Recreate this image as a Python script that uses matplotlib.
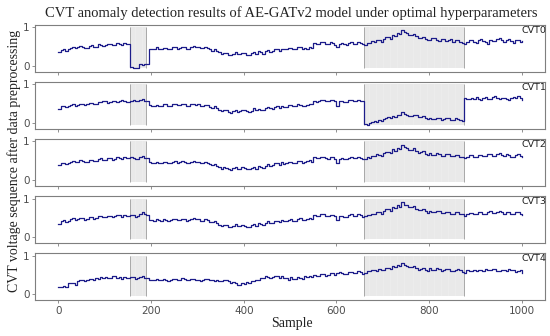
import numpy as np
import matplotlib
matplotlib.use("Agg")
import matplotlib.pyplot as plt

step = 5
series_names = ["CVT0", "CVT1", "CVT2", "CVT3", "CVT4"]

cvt0 = [0.35, 0.42, 0.45, 0.40, 0.44, 0.47, 0.50, 0.46, 0.48, 0.52,
        0.50, 0.46, 0.47, 0.52, 0.53, 0.49, 0.50, 0.56, 0.55, 0.52,
        0.53, 0.57, 0.58, 0.53, 0.55, 0.60, 0.57, 0.54, 0.60, 0.56,
        0.58, -0.03, -0.05, -0.06, -0.04, 0.05, 0.03, 0.04, 0.05, 0.45,
        0.45, 0.43, 0.48, 0.45, 0.44, 0.47, 0.47, 0.43, 0.45, 0.48,
        0.50, 0.45, 0.46, 0.50, 0.48, 0.44, 0.45, 0.49, 0.52, 0.48,
        0.50, 0.47, 0.46, 0.49, 0.47, 0.43, 0.40, 0.44, 0.38, 0.35,
        0.30, 0.34, 0.33, 0.28, 0.28, 0.32, 0.35, 0.30, 0.30, 0.34,
        0.33, 0.29, 0.28, 0.33, 0.36, 0.31, 0.38, 0.35, 0.32, 0.38,
        0.42, 0.37, 0.38, 0.44, 0.44, 0.40, 0.45, 0.43, 0.43, 0.46,
        0.47, 0.44, 0.45, 0.48, 0.48, 0.45, 0.46, 0.44, 0.50, 0.47,
        0.60, 0.57, 0.58, 0.62, 0.62, 0.58, 0.57, 0.61, 0.60, 0.55,
        0.48, 0.58, 0.60, 0.56, 0.55, 0.60, 0.62, 0.57, 0.58, 0.63,
        0.60, 0.56, 0.55, 0.60, 0.60, 0.65, 0.62, 0.66, 0.67, 0.63,
        0.70, 0.74, 0.75, 0.71, 0.80, 0.77, 0.85, 0.82, 0.93, 0.88,
        0.85, 0.80, 0.80, 0.84, 0.78, 0.73, 0.72, 0.76, 0.70, 0.66,
        0.68, 0.73, 0.72, 0.66, 0.65, 0.70, 0.70, 0.64, 0.66, 0.70,
        0.62, 0.67, 0.68, 0.63, 0.60, 0.56, 0.62, 0.66, 0.66, 0.61,
        0.60, 0.66, 0.70, 0.65, 0.62, 0.58, 0.68, 0.64, 0.65, 0.70,
        0.72, 0.66, 0.63, 0.68, 0.70, 0.64, 0.60, 0.66, 0.68, 0.62,
        0.65]
cvt1 = [0.37, 0.43, 0.45, 0.42, 0.44, 0.47, 0.48, 0.45, 0.47, 0.50,
        0.50, 0.47, 0.48, 0.52, 0.52, 0.48, 0.50, 0.55, 0.55, 0.58,
        0.56, 0.53, 0.55, 0.58, 0.57, 0.54, 0.56, 0.59, 0.58, 0.55,
        0.55, 0.58, 0.60, 0.56, 0.57, 0.60, 0.63, 0.58, 0.58, 0.46,
        0.45, 0.43, 0.47, 0.44, 0.44, 0.48, 0.48, 0.45, 0.45, 0.49,
        0.50, 0.46, 0.46, 0.49, 0.48, 0.44, 0.45, 0.48, 0.50, 0.47,
        0.48, 0.45, 0.44, 0.47, 0.46, 0.42, 0.40, 0.43, 0.38, 0.34,
        0.30, 0.33, 0.33, 0.28, 0.27, 0.31, 0.34, 0.29, 0.30, 0.33,
        0.35, 0.30, 0.28, 0.32, 0.38, 0.34, 0.36, 0.33, 0.33, 0.38,
        0.42, 0.38, 0.37, 0.42, 0.43, 0.40, 0.45, 0.42, 0.42, 0.46,
        0.46, 0.43, 0.45, 0.48, 0.47, 0.44, 0.44, 0.47, 0.50, 0.48,
        0.58, 0.55, 0.56, 0.60, 0.60, 0.56, 0.57, 0.60, 0.60, 0.56,
        0.45, 0.56, 0.58, 0.55, 0.55, 0.59, 0.60, 0.56, 0.57, 0.60,
        0.58, 0.56, -0.02, -0.05, 0.00, 0.03, 0.05, 0.02, 0.08, 0.06,
        0.10, 0.13, 0.15, 0.12, 0.18, 0.16, 0.22, 0.20, 0.28, 0.24,
        0.22, 0.18, 0.18, 0.22, 0.20, 0.16, 0.15, 0.18, 0.12, 0.10,
        0.14, 0.11, 0.10, 0.13, 0.13, 0.09, 0.10, 0.13, 0.12, 0.08,
        0.08, 0.12, 0.11, 0.07, 0.05, 0.65, 0.62, 0.62, 0.66, 0.63,
        0.67, 0.62, 0.60, 0.64, 0.68, 0.63, 0.63, 0.67, 0.70, 0.65,
        0.62, 0.66, 0.66, 0.61, 0.60, 0.64, 0.68, 0.65, 0.70, 0.64,
        0.60]
cvt2 = [0.38, 0.43, 0.45, 0.41, 0.43, 0.48, 0.50, 0.46, 0.47, 0.51,
        0.50, 0.46, 0.48, 0.53, 0.53, 0.49, 0.50, 0.55, 0.56, 0.52,
        0.53, 0.56, 0.57, 0.53, 0.55, 0.59, 0.58, 0.55, 0.60, 0.57,
        0.56, 0.59, 0.58, 0.54, 0.55, 0.59, 0.62, 0.57, 0.57, 0.46,
        0.45, 0.43, 0.48, 0.45, 0.44, 0.47, 0.46, 0.43, 0.45, 0.48,
        0.49, 0.45, 0.46, 0.49, 0.48, 0.44, 0.44, 0.48, 0.50, 0.47,
        0.47, 0.44, 0.44, 0.47, 0.45, 0.41, 0.38, 0.42, 0.37, 0.33,
        0.30, 0.33, 0.32, 0.28, 0.27, 0.31, 0.34, 0.29, 0.29, 0.33,
        0.32, 0.28, 0.28, 0.32, 0.35, 0.30, 0.37, 0.34, 0.32, 0.37,
        0.42, 0.37, 0.38, 0.43, 0.44, 0.40, 0.46, 0.42, 0.43, 0.46,
        0.47, 0.43, 0.44, 0.49, 0.50, 0.45, 0.46, 0.50, 0.52, 0.48,
        0.60, 0.56, 0.56, 0.60, 0.60, 0.56, 0.55, 0.59, 0.60, 0.55,
        0.45, 0.55, 0.58, 0.54, 0.54, 0.58, 0.60, 0.56, 0.56, 0.60,
        0.58, 0.54, 0.55, 0.59, 0.58, 0.62, 0.62, 0.67, 0.66, 0.62,
        0.70, 0.73, 0.74, 0.70, 0.80, 0.76, 0.83, 0.80, 0.90, 0.85,
        0.84, 0.79, 0.78, 0.82, 0.75, 0.71, 0.72, 0.75, 0.68, 0.64,
        0.70, 0.66, 0.66, 0.70, 0.68, 0.63, 0.63, 0.67, 0.67, 0.62,
        0.62, 0.66, 0.66, 0.61, 0.60, 0.56, 0.60, 0.64, 0.64, 0.60,
        0.60, 0.65, 0.66, 0.62, 0.62, 0.67, 0.68, 0.63, 0.63, 0.67,
        0.70, 0.65, 0.62, 0.67, 0.66, 0.61, 0.60, 0.65, 0.68, 0.63,
        0.60]
cvt3 = [0.35, 0.42, 0.44, 0.40, 0.42, 0.46, 0.49, 0.45, 0.46, 0.50,
        0.49, 0.45, 0.47, 0.51, 0.52, 0.48, 0.50, 0.54, 0.55, 0.51,
        0.52, 0.55, 0.56, 0.52, 0.54, 0.58, 0.57, 0.53, 0.58, 0.55,
        0.55, 0.58, 0.57, 0.53, 0.56, 0.60, 0.65, 0.60, 0.58, 0.45,
        0.44, 0.42, 0.47, 0.44, 0.43, 0.46, 0.45, 0.42, 0.44, 0.47,
        0.48, 0.44, 0.45, 0.48, 0.47, 0.43, 0.44, 0.47, 0.50, 0.46,
        0.46, 0.43, 0.43, 0.46, 0.44, 0.40, 0.38, 0.41, 0.36, 0.32,
        0.30, 0.32, 0.31, 0.27, 0.26, 0.30, 0.33, 0.28, 0.28, 0.32,
        0.30, 0.27, 0.27, 0.31, 0.34, 0.30, 0.36, 0.33, 0.31, 0.36,
        0.41, 0.36, 0.37, 0.42, 0.43, 0.39, 0.45, 0.41, 0.42, 0.45,
        0.46, 0.42, 0.43, 0.47, 0.49, 0.44, 0.45, 0.48, 0.50, 0.47,
        0.58, 0.54, 0.55, 0.59, 0.59, 0.55, 0.54, 0.58, 0.58, 0.54,
        0.44, 0.54, 0.56, 0.52, 0.53, 0.57, 0.59, 0.55, 0.55, 0.59,
        0.57, 0.53, 0.54, 0.58, 0.57, 0.61, 0.61, 0.66, 0.65, 0.61,
        0.69, 0.72, 0.73, 0.69, 0.78, 0.75, 0.82, 0.79, 0.90, 0.84,
        0.83, 0.78, 0.77, 0.80, 0.74, 0.70, 0.70, 0.73, 0.67, 0.63,
        0.69, 0.65, 0.65, 0.69, 0.67, 0.62, 0.62, 0.66, 0.66, 0.61,
        0.61, 0.65, 0.65, 0.60, 0.59, 0.55, 0.60, 0.63, 0.63, 0.59,
        0.59, 0.64, 0.65, 0.61, 0.61, 0.66, 0.67, 0.62, 0.62, 0.66,
        0.69, 0.64, 0.61, 0.66, 0.65, 0.60, 0.60, 0.64, 0.66, 0.61,
        0.58]
cvt4 = [0.18, 0.20, 0.22, 0.20, 0.30, 0.28, 0.29, 0.25, 0.33, 0.36,
        0.38, 0.34, 0.36, 0.39, 0.40, 0.37, 0.42, 0.40, 0.44, 0.41,
        0.45, 0.42, 0.43, 0.46, 0.46, 0.42, 0.44, 0.40, 0.45, 0.43,
        0.42, 0.45, 0.44, 0.40, 0.41, 0.44, 0.47, 0.43, 0.43, 0.38,
        0.37, 0.36, 0.39, 0.37, 0.36, 0.40, 0.38, 0.35, 0.37, 0.40,
        0.40, 0.37, 0.38, 0.41, 0.39, 0.36, 0.36, 0.40, 0.40, 0.37,
        0.38, 0.35, 0.37, 0.40, 0.39, 0.36, 0.38, 0.35, 0.36, 0.33,
        0.35, 0.37, 0.37, 0.33, 0.30, 0.32, 0.28, 0.25, 0.25, 0.28,
        0.27, 0.31, 0.30, 0.34, 0.34, 0.38, 0.38, 0.42, 0.42, 0.46,
        0.45, 0.41, 0.44, 0.47, 0.47, 0.43, 0.46, 0.42, 0.42, 0.38,
        0.45, 0.40, 0.40, 0.44, 0.43, 0.40, 0.46, 0.44, 0.48, 0.45,
        0.50, 0.47, 0.48, 0.52, 0.52, 0.48, 0.50, 0.54, 0.55, 0.51,
        0.54, 0.57, 0.56, 0.52, 0.53, 0.58, 0.58, 0.54, 0.55, 0.59,
        0.57, 0.53, 0.56, 0.60, 0.60, 0.64, 0.63, 0.60, 0.65, 0.62,
        0.64, 0.68, 0.68, 0.65, 0.72, 0.70, 0.75, 0.72, 0.82, 0.76,
        0.74, 0.70, 0.70, 0.72, 0.68, 0.64, 0.66, 0.69, 0.64, 0.61,
        0.67, 0.64, 0.63, 0.67, 0.66, 0.61, 0.62, 0.66, 0.65, 0.60,
        0.60, 0.64, 0.66, 0.62, 0.58, 0.55, 0.62, 0.60, 0.60, 0.64,
        0.60, 0.64, 0.64, 0.60, 0.66, 0.62, 0.62, 0.65, 0.65, 0.60,
        0.60, 0.64, 0.63, 0.59, 0.66, 0.62, 0.64, 0.58, 0.60, 0.63,
        0.56]
series = [cvt0, cvt1, cvt2, cvt3, cvt4]

anomaly_regions = [(155, 190), (660, 875)]
x_ticks = [0, 200, 400, 600, 800, 1000]
y_ticks = [0, 1]

title = "CVT anomaly detection results of AE-GATv2 model under optimal hyperparameters"
ylabel = "CVT voltage sequence after data preprocessing"
xlabel = "Sample"

fig = plt.figure(figsize=(5.5, 3.36), dpi=100)
gs = fig.add_gridspec(5, 1, left=0.064, right=0.991, top=0.9256, bottom=0.107, hspace=0.22)

serif = ["Liberation Serif", "DejaVu Serif"]
for i, (name, vals) in enumerate(zip(series_names, series)):
    ax = fig.add_subplot(gs[i])
    xs = np.arange(len(vals)) * step
    for (a, b) in anomaly_regions:
        ax.fill_between([a, b], [-0.05, -0.05], [1.0, 1.0], color="#ececec", lw=0, zorder=1)
        ax.vlines(np.arange(a + 4, b, 5), -0.05, 1.0, color="#e2e2e2", lw=0.35, zorder=1)
        ax.vlines([a, b], -0.05, 1.0, color="#a8a8a8", lw=0.7, zorder=1.5)
    ax.plot(xs, vals, color="#1c1c8a", lw=0.9, drawstyle="steps-post", zorder=3)
    ax.text(1000, 0.93, name, fontsize=6.8, color="#222222", ha="left", va="center",
            family="DejaVu Sans", zorder=4)
    ax.set_xlim(-50, 1050)
    ax.set_ylim(-0.15, 1.06)
    ax.set_xticks(x_ticks)
    ax.set_yticks(y_ticks)
    ax.tick_params(length=2.5, width=0.6, color="#7f7f7f", labelsize=7.5,
                   labelcolor="#4d4d4d", pad=1.5)
    if i < 4:
        ax.set_xticklabels([])
    for sp in ax.spines.values():
        sp.set_color("#7f7f7f")
        sp.set_linewidth(0.8)

fig.text(0.53, 0.962, title, ha="center", va="center", fontsize=10.5, family=serif, color="#222222")
fig.text(0.025, 0.52, ylabel, ha="center", va="center", rotation=90, fontsize=10, family=serif, color="#222222")
fig.text(0.53, 0.038, xlabel, ha="center", va="center", fontsize=10, family=serif, color="#222222")

fig.savefig("out.png", dpi=100)
